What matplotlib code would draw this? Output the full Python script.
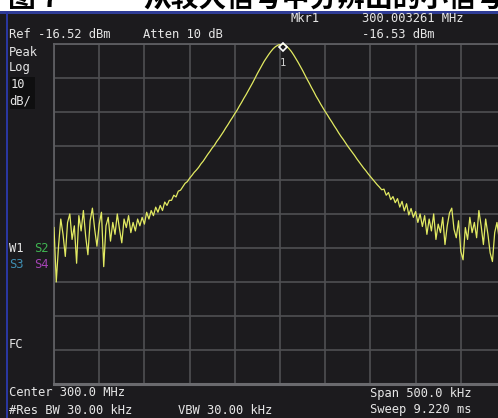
import numpy as np
import matplotlib
matplotlib.use("Agg")
import matplotlib.pyplot as plt
from matplotlib.patches import Rectangle

W, H = 498, 418

# sweep settings
center_mhz = 300.0
span_khz = 500.0
ref_dbm = -16.52
db_per_div = 10

# trace levels (dBm), 201 sweep points across the span
trace_dbm = [
    -70.5, -86.5, -76.0, -68.0, -72.5, -79.0, -69.0, -66.5, -74.0, -70.0,
    -81.0, -67.0, -71.5, -65.5, -73.0, -78.5, -68.5, -64.8, -71.0, -76.0,
    -69.5, -66.0, -82.0, -70.0, -67.5, -74.5, -69.0, -72.5, -66.5, -71.0,
    -75.0, -68.0, -70.5, -67.0, -72.0, -69.0, -71.5, -68.0, -70.0, -67.5,
    -69.5, -66.0, -68.0, -65.5, -67.0, -64.5, -66.0, -64.0, -65.5, -63.0,
    -64.0, -62.5, -62.5, -61.0, -61.5, -59.8, -59.5, -58.5, -57.5, -57.0,
    -56.0, -55.2, -54.3, -53.6, -52.8, -51.8, -51.0, -50.0, -49.0, -48.1,
    -47.1, -46.3, -45.2, -44.3, -43.3, -42.3, -41.2, -40.2, -39.1, -38.1,
    -37.0, -36.0, -34.8, -33.7, -32.5, -31.4, -30.2, -29.0, -27.8, -26.5,
    -25.2, -24.0, -22.8, -21.6, -20.6, -19.6, -18.7, -17.9, -17.3, -16.9,
    -16.6, -16.53, -16.7, -17.2, -17.9, -18.7, -19.7, -20.8, -21.9, -23.1,
    -24.3, -25.6, -26.9, -28.1, -29.4, -30.6, -31.9, -33.0, -34.2, -35.3,
    -36.4, -37.4, -38.5, -39.5, -40.6, -41.6, -42.7, -43.7, -44.6, -45.6,
    -46.6, -47.5, -48.4, -49.3, -50.3, -51.2, -52.1, -53.0, -53.8, -54.7,
    -55.5, -56.3, -57.1, -57.9, -58.6, -59.4, -59.2, -61.0, -60.2, -62.3,
    -61.4, -63.2, -62.0, -64.5, -62.8, -65.6, -63.5, -66.8, -64.9, -67.5,
    -65.8, -69.0, -66.5, -70.2, -67.0, -72.5, -68.0, -71.5, -66.5, -74.0,
    -69.5, -72.0, -67.5, -75.5, -70.0, -66.2, -64.8, -71.0, -73.5, -68.5,
    -77.5, -80.0, -70.5, -74.0, -67.5, -72.0, -69.0, -73.5, -65.5, -70.0,
    -75.5, -68.0, -72.5, -78.0, -80.5, -72.0, -69.0, -74.0, -70.5, -73.0,
    -71.0,
]

marker_mhz = 300.003261
marker_dbm = -16.53

bg = "#1c1b1e"
fg = "#e6e6e6"
mono = "DejaVu Sans Mono"
fs = 8.7

fig = plt.figure(figsize=(W / 100, H / 100), dpi=100, facecolor=bg)


def px(x, y):
    return x / W, 1 - y / H


def label(x, y, s, color=fg, **kw):
    fig.text(*px(x, y), s, color=color, family=mono, fontsize=fs,
             va="center", ha="left", **kw)


# white page strip and caption above the screen
fig.patches.append(Rectangle(px(0, 11), 1, 11 / H, transform=fig.transFigure,
                             facecolor="white", edgecolor="none", zorder=0))
fig.patches.append(Rectangle(px(0, 13.5), 1, 3 / H, transform=fig.transFigure,
                             facecolor="#2f3c96", edgecolor="none", zorder=1))
fig.patches.append(Rectangle(px(5.5, H), 2 / W, (H - 12) / H,
                             transform=fig.transFigure,
                             facecolor="#2a37a0", edgecolor="none", zorder=1))
fig.text(*px(8, -1), "图 7", family=["Noto Sans CJK SC"], fontsize=20,
         fontweight="bold", color="black", va="center")
fig.text(*px(143, -1), "从较大信号中分辨出的小信号", family=["Noto Sans CJK SC"],
         fontsize=20, fontweight="bold", color="black", va="center")

# graticule
ax = fig.add_axes([54 / W, 34 / H, 452 / W, 340 / H])
ax.set_facecolor(bg)
half = span_khz / 2000
start = center_mhz - half
stop = center_mhz + half
freqs = np.linspace(start, stop, len(trace_dbm))
ax.set_xlim(start, stop)
ax.set_ylim(ref_dbm - 10 * db_per_div, ref_dbm)
ax.set_xticks(np.linspace(start, stop, 11))
ax.set_yticks(np.linspace(ref_dbm - 10 * db_per_div, ref_dbm, 11))
ax.tick_params(length=0, labelbottom=False, labelleft=False)
ax.grid(True, color="#4f4f52", linewidth=1.2)
for side, sp in ax.spines.items():
    sp.set_color("#5e5e62")
    sp.set_linewidth(1.3)
ax.spines["bottom"].set_linewidth(2.2)
ax.spines["bottom"].set_color("#6a6a6e")

ax.plot(freqs, trace_dbm, color="#e2ea62", linewidth=0.9, zorder=3)
ax.plot([marker_mhz], [marker_dbm - 1.0], marker="D", ms=4.5, mfc="none",
        mec="white", mew=1.2, zorder=4, clip_on=False)
ax.annotate("1", (marker_mhz, marker_dbm), xytext=(0, -14),
            textcoords="offset points", ha="center", va="center",
            color="#d0d0d0", family=mono, fontsize=7.5, zorder=4)

# annotation block
label(290, 19, "Mkr1")
label(362, 19, "300.003261 MHz")
label(9, 35, "Ref -16.52 dBm")
label(143, 35, "Atten 10 dB")
label(362, 35, "-16.53 dBm")
label(9, 52, "Peak")
label(9, 68, "Log")
fig.patches.append(Rectangle(px(10, 109), 25 / W, 32 / H,
                             transform=fig.transFigure,
                             facecolor="#0f0f10", edgecolor="none", zorder=1))
label(11, 84, "10")
label(9, 101, "dB/")
label(9, 248, "W1")
label(34, 248, "S2", color="#3fb551")
label(9, 265, "S3", color="#3f8fb3")
label(34, 265, "S4", color="#a443b4")
label(9, 345, "FC")
label(9, 393, "Center 300.0 MHz")
label(370, 393, "Span 500.0 kHz")
label(9, 410, "#Res BW 30.00 kHz")
label(178, 410, "VBW 30.00 kHz")
label(370, 410, "Sweep 9.220 ms")

fig.savefig("out.png", dpi=100, facecolor=bg)
